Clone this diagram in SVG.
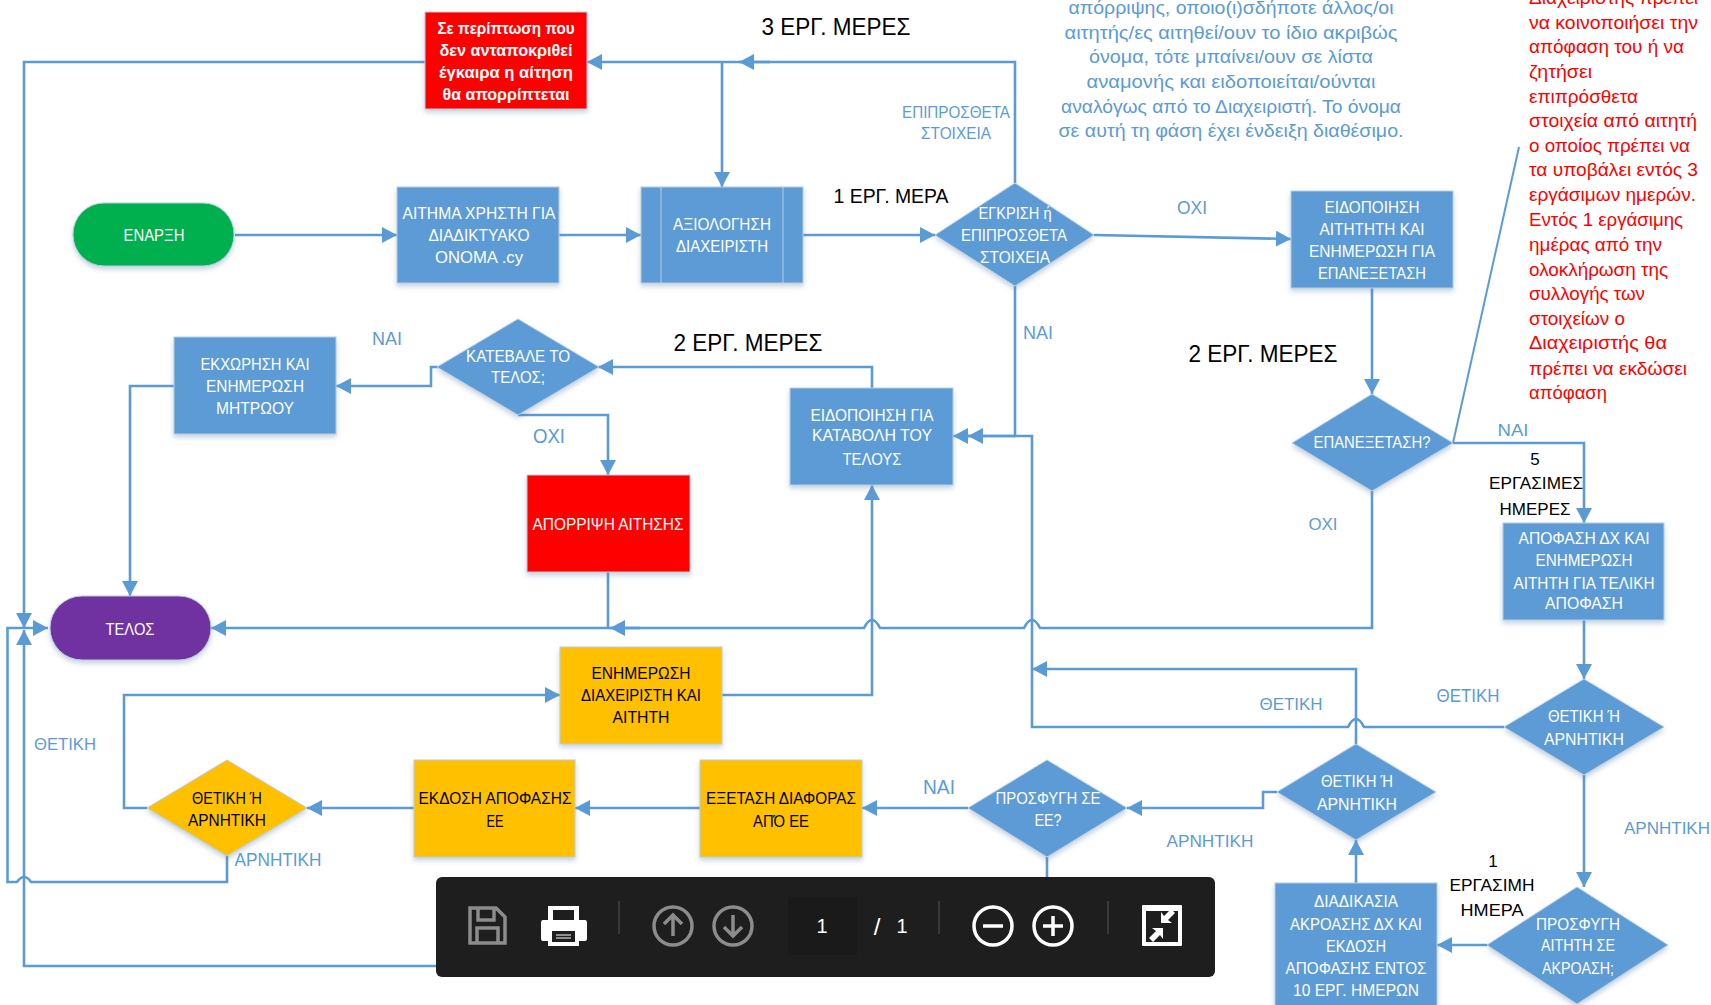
<svg xmlns="http://www.w3.org/2000/svg" width="1711" height="1005" viewBox="0 0 1711 1005">
<style>
text{font-family:"Liberation Sans",Arial,sans-serif;font-size:17px;text-anchor:middle}
.w{fill:#fff}.k{fill:#000}.b{fill:#5b9bd5}.r{fill:#f00;font-size:19px;text-anchor:start}.p{font-size:19px}
.big{font-size:24px}.mid{font-size:21px}.lb{font-size:19px}
.s{filter:url(#sh);stroke:#b9cde0;stroke-width:1}
.bl{fill:#5b9bd5}.ye{fill:#ffc000}.re{fill:#f00}.gr{fill:#00b050}.pu{fill:#7030a0}
.c path{fill:none;stroke:#5b9bd5;stroke-width:2.6;stroke-linejoin:miter}
.a{marker-end:url(#ar)}
.tb{fill:none;stroke:#8c8c8c;stroke-width:3.5}.tw{fill:none;stroke:#fff;stroke-width:3.5}
.sep{stroke:#555;stroke-width:1}
</style>
<defs>
<marker id="ar" markerUnits="userSpaceOnUse" markerWidth="15" markerHeight="17" refX="15" refY="8" orient="auto"><path d="M0,0L15,8L0,16z" fill="#5b9bd5"/></marker>
<filter id="sh" x="-10%" y="-10%" width="120%" height="125%"><feDropShadow dx="0" dy="3" stdDeviation="2.5" flood-color="#5b7fa5" flood-opacity=".35"/></filter>
</defs>
<rect width="1711" height="1005" fill="#fff"/>
<g id="connectors" class="c">
<path class="a" d="M235,235H397"/>
<path class="a" d="M559,235H641"/>
<path class="a" d="M803,235H935"/>
<path class="a" d="M1094,235L1291,239"/>
<path class="a" d="M1372,288V394"/>
<path class="a" d="M1015,183V62H587"/>
<path class="a" d="M770,62H739"/>
<path class="a" d="M722,62V187"/>
<path class="a" d="M425,62H24V628"/>
<path class="a" d="M227,856V882H31Q24,872 17,882H7.5V628H48"/>
<path class="a" d="M436,966H24V630"/>
<path class="a" d="M174,386H130V596"/>
<path class="a" d="M438,367H431V386H336"/>
<path class="a" d="M518,415H608V475"/>
<path class="a" d="M872,388V367H598"/>
<path class="a" d="M1015,286V436H953"/>
<path class="a" d="M1504,727H1364Q1356,711 1348,727H1032V436H968"/>
<path class="a" d="M1372,491V628H1040Q1032,612 1024,628H880Q872,612 864,628H211"/>
<path class="a" d="M640,628H610"/>
<path d="M608,572V628"/>
<path class="a" d="M722,695H872V485"/>
<path class="a" d="M147,808H124V695H560"/>
<path class="a" d="M414,808H307"/>
<path class="a" d="M700,808H575"/>
<path class="a" d="M968,808H862"/>
<path d="M1047,857V880"/>
<path class="a" d="M1277,792H1263V808H1127"/>
<path class="a" d="M1356,744V669H1032"/>
<path class="a" d="M1356,883V840"/>
<path class="a" d="M1487,945H1437"/>
<path class="a" d="M1584,620V679"/>
<path class="a" d="M1584,775V887"/>
<path class="a" d="M1453,443H1584V523"/>
<path style="stroke-width:2" d="M1453,443L1519,147"/>
</g>
<g id="n-red-top"><rect class="s re" x="425" y="12" width="162" height="97"/>
<text class="w" font-weight="bold" x="506" y="34" textLength="137" lengthAdjust="spacingAndGlyphs">Σε περίπτωση που</text>
<text class="w" font-weight="bold" x="506" y="56" textLength="133" lengthAdjust="spacingAndGlyphs">δεν ανταποκριθεί</text>
<text class="w" font-weight="bold" x="506" y="78" textLength="134" lengthAdjust="spacingAndGlyphs">έγκαιρα  η αίτηση</text>
<text class="w" font-weight="bold" x="506" y="100" textLength="127" lengthAdjust="spacingAndGlyphs">θα απορρίπτεται</text></g>
<g id="n-start"><rect class="s gr" x="73" y="203" width="161" height="63" rx="31" ry="31"/>
<text class="w" x="154" y="241" textLength="61" lengthAdjust="spacingAndGlyphs">ΕΝΑΡΞΗ</text></g>
<g id="n-request"><rect class="s bl" x="397" y="187" width="162" height="96"/>
<text class="w" x="479" y="219" textLength="153" lengthAdjust="spacingAndGlyphs">ΑΙΤΗΜΑ ΧΡΗΣΤΗ ΓΙΑ</text>
<text class="w" x="479" y="241" textLength="101" lengthAdjust="spacingAndGlyphs">ΔΙΑΔΙΚΤΥΑΚΟ</text>
<text class="w" x="479" y="263" textLength="88" lengthAdjust="spacingAndGlyphs">ΟΝΟΜΑ .cy</text></g>
<g id="n-eval"><rect class="s bl" x="641" y="187" width="162" height="96"/>
<path d="M661,187V283M783,187V283" stroke="#b9cde0" fill="none"/>
<text class="w" x="722" y="230" textLength="98" lengthAdjust="spacingAndGlyphs">ΑΞΙΟΛΟΓΗΣΗ</text>
<text class="w" x="722" y="252" textLength="92" lengthAdjust="spacingAndGlyphs">ΔΙΑΧΕΙΡΙΣΤΗ</text></g>
<g id="n-approve"><path class="s bl" d="M1015,183L1094,235L1015,286L935,235z"/>
<text class="w" x="1015" y="219" textLength="73" lengthAdjust="spacingAndGlyphs">ΕΓΚΡΙΣΗ ή</text>
<text class="w" x="1014" y="241" textLength="106" lengthAdjust="spacingAndGlyphs">ΕΠΙΠΡΟΣΘΕΤΑ</text>
<text class="w" x="1015" y="263" textLength="70" lengthAdjust="spacingAndGlyphs">ΣΤΟΙΧΕΙΑ</text></g>
<g id="n-notify"><rect class="s bl" x="1291" y="191" width="162" height="97"/>
<text class="w" x="1372" y="213" textLength="95" lengthAdjust="spacingAndGlyphs">ΕΙΔΟΠΟΙΗΣΗ</text>
<text class="w" x="1372" y="235" textLength="105" lengthAdjust="spacingAndGlyphs">ΑΙΤΗΤΗΤΗ ΚΑΙ</text>
<text class="w" x="1372" y="257" textLength="126" lengthAdjust="spacingAndGlyphs">ΕΝΗΜΕΡΩΣΗ ΓΙΑ</text>
<text class="w" x="1372" y="279" textLength="108" lengthAdjust="spacingAndGlyphs">ΕΠΑΝΕΞΕΤΑΣΗ</text></g>
<g id="n-review"><path class="s bl" d="M1372,394L1453,443L1372,491L1292,443z"/>
<text class="w" x="1372" y="448" textLength="117" lengthAdjust="spacingAndGlyphs">ΕΠΑΝΕΞΕΤΑΣΗ?</text></g>
<g id="n-paid"><path class="s bl" d="M518,319L599,367L518,415L437,367z"/>
<text class="w" x="518" y="362" textLength="104" lengthAdjust="spacingAndGlyphs">ΚΑΤΕΒΑΛΕ ΤΟ</text>
<text class="w" x="518" y="383" textLength="54" lengthAdjust="spacingAndGlyphs">ΤΕΛΟΣ;</text></g>
<g id="n-assign"><rect class="s bl" x="174" y="337" width="162" height="97"/>
<text class="w" x="255" y="370" textLength="109" lengthAdjust="spacingAndGlyphs">ΕΚΧΩΡΗΣΗ ΚΑΙ</text>
<text class="w" x="255" y="392" textLength="98" lengthAdjust="spacingAndGlyphs">ΕΝΗΜΕΡΩΣΗ</text>
<text class="w" x="255" y="414" textLength="78" lengthAdjust="spacingAndGlyphs">ΜΗΤΡΩΟΥ</text></g>
<g id="n-fee"><rect class="s bl" x="790" y="388" width="163" height="97"/>
<text class="w" x="872" y="421" textLength="123" lengthAdjust="spacingAndGlyphs">ΕΙΔΟΠΟΙΗΣΗ ΓΙΑ</text>
<text class="w" x="872" y="441" textLength="120" lengthAdjust="spacingAndGlyphs">ΚΑΤΑΒΟΛΗ ΤΟΥ</text>
<text class="w" x="872" y="465" textLength="59" lengthAdjust="spacingAndGlyphs">ΤΕΛΟΥΣ</text></g>
<g id="n-reject"><rect class="s re" x="527" y="475" width="163" height="97"/>
<text class="w" x="608" y="530" textLength="151" lengthAdjust="spacingAndGlyphs">ΑΠΟΡΡΙΨΗ ΑΙΤΗΣΗΣ</text></g>
<g id="n-end"><rect class="s pu" x="50" y="596" width="161" height="64" rx="32" ry="32"/>
<text class="w" x="130" y="635" textLength="49" lengthAdjust="spacingAndGlyphs">ΤΕΛΟΣ</text></g>
<g id="n-inform"><rect class="s ye" x="560" y="647" width="162" height="97"/>
<text class="k" x="641" y="679" textLength="99" lengthAdjust="spacingAndGlyphs">ΕΝΗΜΕΡΩΣΗ</text>
<text class="k" x="641" y="701" textLength="120" lengthAdjust="spacingAndGlyphs">ΔΙΑΧΕΙΡΙΣΤΗ ΚΑΙ</text>
<text class="k" x="641" y="723" textLength="57" lengthAdjust="spacingAndGlyphs">ΑΙΤΗΤΗ</text></g>
<g id="n-issue"><rect class="s ye" x="414" y="760" width="161" height="97"/>
<text class="k" x="495" y="804" textLength="153" lengthAdjust="spacingAndGlyphs">ΕΚΔΟΣΗ ΑΠΟΦΑΣΗΣ</text>
<text class="k" x="495" y="827" textLength="17" lengthAdjust="spacingAndGlyphs">ΕΕ</text></g>
<g id="n-exam"><rect class="s ye" x="700" y="760" width="162" height="97"/>
<text class="k" x="781" y="804" textLength="150" lengthAdjust="spacingAndGlyphs">ΕΞΕΤΑΣΗ ΔΙΑΦΟΡΑΣ</text>
<text class="k" x="781" y="827" textLength="56" lengthAdjust="spacingAndGlyphs">ΑΠΌ ΕΕ</text></g>
<g id="n-dec-yellow"><path class="s ye" d="M227,760L307,808L227,856L147,808z"/>
<text class="k" x="227" y="804" textLength="70" lengthAdjust="spacingAndGlyphs">ΘΕΤΙΚΗ Ή</text>
<text class="k" x="227" y="826" textLength="78" lengthAdjust="spacingAndGlyphs">ΑΡΝΗΤΙΚΗ</text></g>
<g id="n-appeal-ee"><path class="s bl" d="M1047,760L1127,808L1047,857L968,808z"/>
<text class="w" x="1048" y="804" textLength="105" lengthAdjust="spacingAndGlyphs">ΠΡΟΣΦΥΓΗ ΣΕ</text>
<text class="w" x="1048" y="826" textLength="27" lengthAdjust="spacingAndGlyphs">ΕΕ?</text></g>
<g id="n-dec-mid"><path class="s bl" d="M1356,744L1436,792L1356,840L1277,792z"/>
<text class="w" x="1357" y="787" textLength="72" lengthAdjust="spacingAndGlyphs">ΘΕΤΙΚΗ Ή</text>
<text class="w" x="1357" y="810" textLength="80" lengthAdjust="spacingAndGlyphs">ΑΡΝΗΤΙΚΗ</text></g>
<g id="n-dec-right"><path class="s bl" d="M1584,679L1664,727L1584,775L1504,727z"/>
<text class="w" x="1584" y="722" textLength="72" lengthAdjust="spacingAndGlyphs">ΘΕΤΙΚΗ Ή</text>
<text class="w" x="1584" y="745" textLength="80" lengthAdjust="spacingAndGlyphs">ΑΡΝΗΤΙΚΗ</text></g>
<g id="n-decision"><rect class="s bl" x="1503" y="523" width="161" height="97"/>
<text class="w" x="1584" y="544" textLength="131" lengthAdjust="spacingAndGlyphs">ΑΠΟΦΑΣΗ ΔΧ ΚΑΙ</text>
<text class="w" x="1584" y="566" textLength="97" lengthAdjust="spacingAndGlyphs">ΕΝΗΜΕΡΩΣΗ</text>
<text class="w" x="1584" y="589" textLength="141" lengthAdjust="spacingAndGlyphs">ΑΙΤΗΤΗ ΓΙΑ ΤΕΛΙΚΗ</text>
<text class="w" x="1584" y="609" textLength="78" lengthAdjust="spacingAndGlyphs">ΑΠΟΦΑΣΗ</text></g>
<g id="n-appeal"><path class="s bl" d="M1577,887L1668,945L1577,1004L1487,945z"/>
<text class="w" x="1578" y="930" textLength="84" lengthAdjust="spacingAndGlyphs">ΠΡΟΣΦΥΓΗ</text>
<text class="w" x="1578" y="951" textLength="74" lengthAdjust="spacingAndGlyphs">ΑΙΤΗΤΗ ΣΕ</text>
<text class="w" x="1578" y="974" textLength="72" lengthAdjust="spacingAndGlyphs">ΑΚΡΟΑΣΗ;</text></g>
<g id="n-hearing"><rect class="s bl" x="1275" y="883" width="162" height="130"/>
<text class="w" x="1356" y="907" textLength="84" lengthAdjust="spacingAndGlyphs">ΔΙΑΔΙΚΑΣΙΑ</text>
<text class="w" x="1356" y="930" textLength="132" lengthAdjust="spacingAndGlyphs">ΑΚΡΟΑΣΗΣ ΔΧ ΚΑΙ</text>
<text class="w" x="1356" y="952" textLength="60" lengthAdjust="spacingAndGlyphs">ΕΚΔΟΣΗ</text>
<text class="w" x="1356" y="974" textLength="141" lengthAdjust="spacingAndGlyphs">ΑΠΟΦΑΣΗΣ ΕΝΤΟΣ</text>
<text class="w" x="1356" y="996" textLength="126" lengthAdjust="spacingAndGlyphs">10 ΕΡΓ. ΗΜΕΡΩΝ</text></g>
<g id="labels">
<text class="k big" x="836" y="35" textLength="149" lengthAdjust="spacingAndGlyphs">3 ΕΡΓ. ΜΕΡΕΣ</text>
<text class="k mid" x="891" y="203" textLength="115" lengthAdjust="spacingAndGlyphs">1 ΕΡΓ. ΜΕΡΑ</text>
<text class="k big" x="748" y="351" textLength="149" lengthAdjust="spacingAndGlyphs">2 ΕΡΓ. ΜΕΡΕΣ</text>
<text class="k big" x="1263" y="362" textLength="149" lengthAdjust="spacingAndGlyphs">2 ΕΡΓ. ΜΕΡΕΣ</text>
<text class="b" x="956" y="118" textLength="108" lengthAdjust="spacingAndGlyphs">ΕΠΙΠΡΟΣΘΕΤΑ</text>
<text class="b" x="956" y="139" textLength="70" lengthAdjust="spacingAndGlyphs">ΣΤΟΙΧΕΙΑ</text>
<text class="b lb" x="1192" y="214" textLength="30" lengthAdjust="spacingAndGlyphs">ΟΧΙ</text>
<text class="b lb" x="1038" y="339" textLength="30" lengthAdjust="spacingAndGlyphs">ΝΑΙ</text>
<text class="b" x="1513" y="436" textLength="31" lengthAdjust="spacingAndGlyphs">ΝΑΙ</text>
<text class="k" x="1535" y="465">5</text>
<text class="k" x="1536" y="489" textLength="94" lengthAdjust="spacingAndGlyphs">ΕΡΓΑΣΙΜΕΣ</text>
<text class="k" x="1535" y="515" textLength="71" lengthAdjust="spacingAndGlyphs">ΗΜΕΡΕΣ</text>
<text class="b" x="1323" y="530" textLength="29" lengthAdjust="spacingAndGlyphs">ΟΧΙ</text>
<text class="b lb" x="387" y="345" textLength="30" lengthAdjust="spacingAndGlyphs">ΝΑΙ</text>
<text class="b mid" x="549" y="443" textLength="32" lengthAdjust="spacingAndGlyphs">ΟΧΙ</text>
<text class="b" x="65" y="750" textLength="62" lengthAdjust="spacingAndGlyphs">ΘΕΤΙΚΗ</text>
<text class="b lb" x="278" y="866" textLength="87" lengthAdjust="spacingAndGlyphs">ΑΡΝΗΤΙΚΗ</text>
<text class="b mid" x="939" y="794" textLength="32" lengthAdjust="spacingAndGlyphs">ΝΑΙ</text>
<text class="b" x="1210" y="847" textLength="87" lengthAdjust="spacingAndGlyphs">ΑΡΝΗΤΙΚΗ</text>
<text class="b" x="1291" y="710" textLength="63" lengthAdjust="spacingAndGlyphs">ΘΕΤΙΚΗ</text>
<text class="b lb" x="1468" y="702" textLength="63" lengthAdjust="spacingAndGlyphs">ΘΕΤΙΚΗ</text>
<text class="b" x="1667" y="834" textLength="86" lengthAdjust="spacingAndGlyphs">ΑΡΝΗΤΙΚΗ</text>
<text class="k" x="1493" y="867">1</text>
<text class="k" x="1492" y="891" textLength="85" lengthAdjust="spacingAndGlyphs">ΕΡΓΑΣΙΜΗ</text>
<text class="k" x="1492" y="916" textLength="63" lengthAdjust="spacingAndGlyphs">ΗΜΕΡΑ</text>
</g>
<g id="note-blue">
<text class="b p" x="1231" y="14" textLength="325" lengthAdjust="spacingAndGlyphs">απόρριψης, οποιο(ι)σδήποτε άλλος/οι</text>
<text class="b p" x="1231" y="39" textLength="333" lengthAdjust="spacingAndGlyphs">αιτητής/ες αιτηθεί/ουν το ίδιο ακριβώς</text>
<text class="b p" x="1231" y="63" textLength="284" lengthAdjust="spacingAndGlyphs">όνομα, τότε μπαίνει/ουν σε λίστα</text>
<text class="b p" x="1231" y="88" textLength="289" lengthAdjust="spacingAndGlyphs">αναμονής και ειδοποιείται/ούνται</text>
<text class="b p" x="1231" y="113" textLength="340" lengthAdjust="spacingAndGlyphs">αναλόγως από το  Διαχειριστή. Το όνομα</text>
<text class="b p" x="1231" y="137" textLength="345" lengthAdjust="spacingAndGlyphs">σε αυτή τη φάση έχει ένδειξη διαθέσιμο.</text>
</g>
<g id="note-red">
<text class="r" x="1529" y="4" textLength="169" lengthAdjust="spacingAndGlyphs">Διαχειριστής πρέπει</text>
<text class="r" x="1529" y="29" textLength="169" lengthAdjust="spacingAndGlyphs">να κοινοποιήσει την</text>
<text class="r" x="1529" y="53" textLength="155" lengthAdjust="spacingAndGlyphs">απόφαση του ή να</text>
<text class="r" x="1529" y="78" textLength="63" lengthAdjust="spacingAndGlyphs">ζητήσει</text>
<text class="r" x="1529" y="103" textLength="109" lengthAdjust="spacingAndGlyphs">επιπρόσθετα</text>
<text class="r" x="1529" y="127" textLength="168" lengthAdjust="spacingAndGlyphs">στοιχεία από αιτητή</text>
<text class="r" x="1529" y="152" textLength="161" lengthAdjust="spacingAndGlyphs">ο οποίος πρέπει να</text>
<text class="r" x="1529" y="176" textLength="169" lengthAdjust="spacingAndGlyphs">τα υποβάλει εντός 3</text>
<text class="r" x="1529" y="201" textLength="167" lengthAdjust="spacingAndGlyphs">εργάσιμων ημερών.</text>
<text class="r" x="1529" y="226" textLength="154" lengthAdjust="spacingAndGlyphs">Εντός 1 εργάσιμης</text>
<text class="r" x="1529" y="251" textLength="133" lengthAdjust="spacingAndGlyphs">ημέρας από την</text>
<text class="r" x="1529" y="276" textLength="139" lengthAdjust="spacingAndGlyphs">ολοκλήρωση της</text>
<text class="r" x="1529" y="300" textLength="116" lengthAdjust="spacingAndGlyphs">συλλογής των</text>
<text class="r" x="1529" y="325" textLength="96" lengthAdjust="spacingAndGlyphs">στοιχείων ο</text>
<text class="r" x="1529" y="349" textLength="138" lengthAdjust="spacingAndGlyphs">Διαχειριστής  θα</text>
<text class="r" x="1529" y="375" textLength="158" lengthAdjust="spacingAndGlyphs">πρέπει να εκδώσει</text>
<text class="r" x="1529" y="399" textLength="78" lengthAdjust="spacingAndGlyphs">απόφαση</text>
</g>
<g id="toolbar">
<rect x="436" y="877" width="779" height="100" rx="6" fill="#1e1e1e"/>
<rect x="788" y="897" width="69" height="58" fill="#1a1a1a"/>
<path class="tb" d="M470,908H496L505,917V943H470z"/><path class="tb" d="M478,908V920H494V908M477,943V928H498V943"/>
<path fill="#fff" d="M548,906H579V920H585Q587,920 587,923V939Q587,941 585,941H579V946H548V941H543Q541,941 541,939V923Q541,920 543,920H548zM553,910V920H574V910zM552,931V942H575V931z"/>
<path d="M556,935H571M556,938H571" stroke="#fff" stroke-width="1"/>
<path class="sep" d="M619,901V934M939,901V934M1108,901V934"/>
<circle class="tb" cx="673" cy="926" r="19"/><path class="tb" d="M673,936V915M664,924L673,915L682,924"/>
<circle class="tb" cx="733" cy="926" r="19"/><path class="tb" d="M733,915V936M724,927L733,936L742,927"/>
<text class="w" style="font-size:20px" x="822" y="933">1</text>
<text class="w" style="font-size:24px" x="877" y="935">/</text>
<text class="w" style="font-size:20px" x="902" y="933">1</text>
<circle class="tw" cx="993" cy="926" r="19"/><path class="tw" d="M983,926H1003"/>
<circle class="tw" cx="1053" cy="926" r="19"/><path class="tw" d="M1043,926H1063M1053,916V936"/>
<rect x="1142" y="905" width="40" height="41" fill="#fff" rx="1"/>
<rect x="1146" y="911" width="32" height="31" fill="#1e1e1e"/>
<path fill="#fff" d="M1149,938L1156,931L1152,928H1163V939L1160,935L1153,942zM1175,913L1168,920L1172,923H1161V912L1164,916L1171,909z"/>
</g>
</svg>
